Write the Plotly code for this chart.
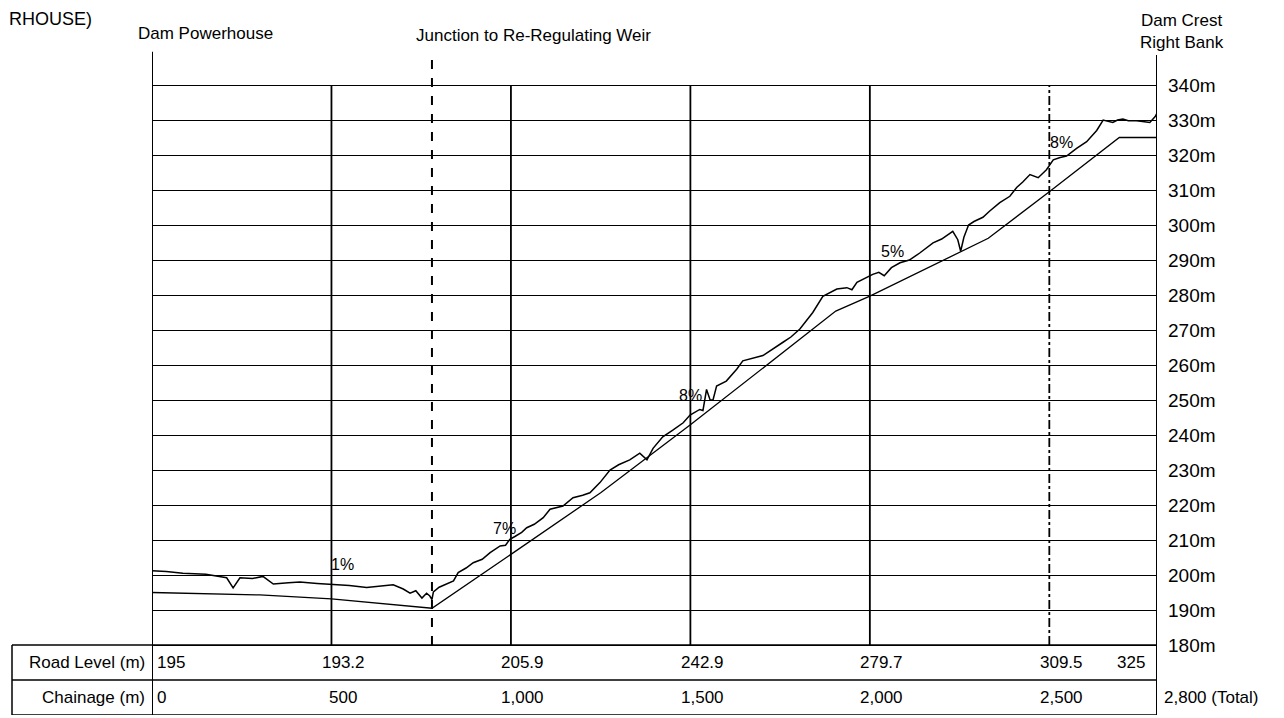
import plotly.graph_objects as go

# ---------------- data ----------------
ground_ch = [0, 40, 86, 150, 208, 226, 245, 280, 309, 338, 380, 412, 460, 504, 550, 598, 640, 672, 700, 719,
             735, 752, 765, 774, 780, 784, 800, 840, 853, 875, 895, 920, 942, 970, 985, 997, 1011, 1030, 1044,
             1065, 1090, 1109, 1145, 1173, 1200, 1220, 1248, 1276, 1300, 1331, 1359, 1379, 1396, 1423, 1451,
             1480, 1499, 1526, 1535, 1545, 1555, 1563, 1573, 1600, 1629, 1646, 1702, 1730, 1758, 1780, 1805,
             1841, 1869, 1908, 1936, 1950, 1964, 2008, 2025, 2040, 2060, 2084, 2110, 2139, 2176, 2200, 2231,
             2245, 2253, 2262, 2275, 2290, 2315, 2334, 2362, 2390, 2409, 2426, 2446, 2469, 2492, 2511, 2530,
             2548, 2576, 2604, 2632, 2650, 2665, 2677, 2690, 2705, 2720, 2743, 2765, 2780, 2795, 2800]
ground_lv = [201.2, 201.0, 200.5, 200.2, 199.2, 196.3, 199.2, 199.0, 199.6, 197.4, 197.8, 198.0, 197.6, 197.4,
             197.0, 196.4, 196.8, 197.2, 196.0, 194.8, 195.5, 193.4, 194.8, 194.0, 193.0, 195.2, 196.5, 198.3,
             200.7, 202.0, 203.5, 204.5, 206.4, 208.3, 208.5, 210.2, 211.0, 212.2, 213.5, 214.5, 216.4, 218.8,
             219.7, 222.1, 222.8, 223.5, 226.4, 230.0, 231.5, 232.9, 234.8, 232.9, 236.2, 239.5, 241.4, 243.5,
             245.7, 247.3, 247.0, 253.0, 250.0, 250.0, 254.0, 255.4, 258.8, 261.2, 262.7, 264.5, 266.5, 268.0,
             270.3, 275.0, 279.6, 281.7, 282.1, 281.5, 283.6, 285.9, 286.5, 285.5, 287.8, 289.2, 290.0, 292.0,
             294.9, 296.0, 298.2, 295.8, 292.5, 296.5, 300.0, 301.0, 302.2, 304.0, 306.4, 308.2, 310.7, 312.3,
             314.4, 313.5, 315.8, 318.6, 319.3, 319.7, 321.9, 323.8, 327.0, 330.0, 329.5, 329.3, 330.0, 330.3,
             329.8, 329.8, 329.5, 329.3, 331.0, 332.0]

road_ch = [0, 300, 500, 780, 1000, 1250, 1500, 1905, 2000, 2330, 2500, 2695, 2800]
road_lv = [195.0, 194.3, 193.2, 190.5, 205.9, 223.5, 242.9, 275.4, 279.7, 296.2, 309.5, 325.0, 325.0]

level_ticks = list(range(180, 341, 10))
level_tick_text = [f"{v}m" for v in level_ticks]

table_ch = [0, 500, 1000, 1500, 2000, 2500, 2800]
table_road_level = ["195", "193.2", "205.9", "242.9", "279.7", "309.5", "325"]
table_chainage = ["0", "500", "1,000", "1,500", "2,000", "2,500", "2,800 (Total)"]

grade_labels = ["1%", "7%", "8%", "5%", "8%"]
grade_ch = [532, 983, 1499, 2064, 2535]
grade_lv = [202.9, 213.4, 251.4, 292.3, 323.7]

grid_ch_solid = [500, 1000, 1500, 2000]
grid_ch_dashdot = [2500]
junction_ch = 780
total_ch = 2800

# ---------------- figure ----------------
FONT = "Liberation Sans"
OFF = 8  # page body margin
W, H = 1284 - OFF, 718 - OFF
PL, PT = 152, 85 - 35  # screen px of plot-area left / top
PW, PH = 1005, 665
ML, MT = PL - OFF, PT - OFF
MR = W - ML - PW
MB = H - MT - PH


def sx(px):
    """screen px -> paper x"""
    return (px - PL) / PW


def sy(py):
    """screen px -> paper y"""
    return (PT + PH - py) / PH


fig = go.Figure()
fig.add_trace(go.Scatter(x=ground_ch, y=ground_lv, mode="lines",
                         line=dict(color="black", width=1.5), hoverinfo="skip", showlegend=False))
fig.add_trace(go.Scatter(x=road_ch, y=road_lv, mode="lines",
                         line=dict(color="black", width=1.3), hoverinfo="skip", showlegend=False))

shapes = []
blk = "black"
shapes.append(dict(type="line", xref="x", yref="y", x0=total_ch, x1=total_ch, y0=160, y1=348.6,
                   line=dict(color=blk, width=2)))
shapes.append(dict(type="line", xref="x", yref="y", x0=0, x1=0, y0=160, y1=349.5,
                   line=dict(color=blk, width=2)))
shapes.append(dict(type="line", xref="x", yref="y", x0=junction_ch, x1=junction_ch, y0=180, y1=349.5,
                   line=dict(color=blk, width=2, dash="dash")))
for c in grid_ch_solid:
    shapes.append(dict(type="line", xref="x", yref="y", x0=c, x1=c, y0=180, y1=340,
                       line=dict(color=blk, width=1.8)))
for c in grid_ch_dashdot:
    shapes.append(dict(type="line", xref="x", yref="y", x0=c, x1=c, y0=180, y1=340,
                       line=dict(color=blk, width=1.8, dash="dashdot")))
tl = sx(12)
for yv in (180, 170, 160):
    shapes.append(dict(type="line", xref="paper", yref="y", x0=tl, x1=1, y0=yv, y1=yv,
                       line=dict(color=blk, width=1.5)))
shapes.append(dict(type="line", xref="paper", yref="y", x0=tl, x1=tl, y0=160, y1=180,
                   line=dict(color=blk, width=1.5)))

ann = []
tf = dict(family=FONT, size=17, color="black")
ann.append(dict(xref="paper", yref="y", x=sx(147), y=175, text="Road Level (m)",
                xanchor="right", yanchor="middle", showarrow=False, font=tf))
ann.append(dict(xref="paper", yref="y", x=sx(147), y=165, text="Chainage (m)",
                xanchor="right", yanchor="middle", showarrow=False, font=tf))
for i, (c, rl, ch) in enumerate(zip(table_ch, table_road_level, table_chainage)):
    if i == 0:
        ann.append(dict(xref="x", yref="y", x=c, y=175, text=rl, xanchor="left", xshift=3,
                        showarrow=False, font=tf))
        ann.append(dict(xref="x", yref="y", x=c, y=165, text=ch, xanchor="left", xshift=3,
                        showarrow=False, font=tf))
    elif i == len(table_ch) - 1:
        ann.append(dict(xref="x", yref="y", x=c, y=175, text=rl, xanchor="right", xshift=-10,
                        showarrow=False, font=tf))
        ann.append(dict(xref="x", yref="y", x=c, y=165, text=ch, xanchor="left", xshift=5,
                        showarrow=False, font=tf))
    else:
        ann.append(dict(xref="x", yref="y", x=c, y=175, text=rl, xanchor="center", xshift=12,
                        showarrow=False, font=tf))
        ann.append(dict(xref="x", yref="y", x=c, y=165, text=ch, xanchor="center", xshift=12,
                        showarrow=False, font=tf))

for t, c, v in zip(grade_labels, grade_ch, grade_lv):
    ann.append(dict(xref="x", yref="y", x=c, y=v, text=t, xanchor="center", yanchor="middle",
                    showarrow=False, font=dict(family=FONT, size=16, color="black")))

top = dict(family=FONT, size=17, color="black")
ann.append(dict(xref="paper", yref="paper", x=sx(136), y=sy(33), text="Dam Powerhouse",
                xanchor="left", yanchor="middle", showarrow=False, font=top))
ann.append(dict(xref="paper", yref="paper", x=sx(414), y=sy(36), text="Junction to Re-Regulating Weir",
                xanchor="left", yanchor="middle", showarrow=False, font=top))
ann.append(dict(xref="paper", yref="paper", x=sx(1182), y=sy(31), text="Dam Crest<br>Right Bank",
                xanchor="center", yanchor="middle", showarrow=False, font=top, align="center"))
ann.append(dict(xref="paper", yref="paper", x=sx(OFF), y=sy(OFF), text="RHOUSE)",
                xanchor="left", yanchor="top", showarrow=False, borderpad=0,
                font=dict(family="Liberation Sans", size=18, color="black")))

fig.update_layout(
    width=W, height=H,
    margin=dict(l=ML, r=MR, t=MT, b=MB, pad=0),
    paper_bgcolor="white", plot_bgcolor="white",
    showlegend=False,
    shapes=shapes, annotations=ann,
    xaxis=dict(range=[0, total_ch], showgrid=False, zeroline=False, showline=False,
               showticklabels=False, ticks=""),
    yaxis=dict(range=[160, 350], side="right", tickvals=level_ticks, ticktext=level_tick_text,
               showgrid=True, gridcolor="black", gridwidth=1.3, zeroline=False, showline=False,
               ticks="", ticklabelstandoff=10,
               tickfont=dict(family=FONT, size=19, color="black")),
)

fig.write_html("out.html")
